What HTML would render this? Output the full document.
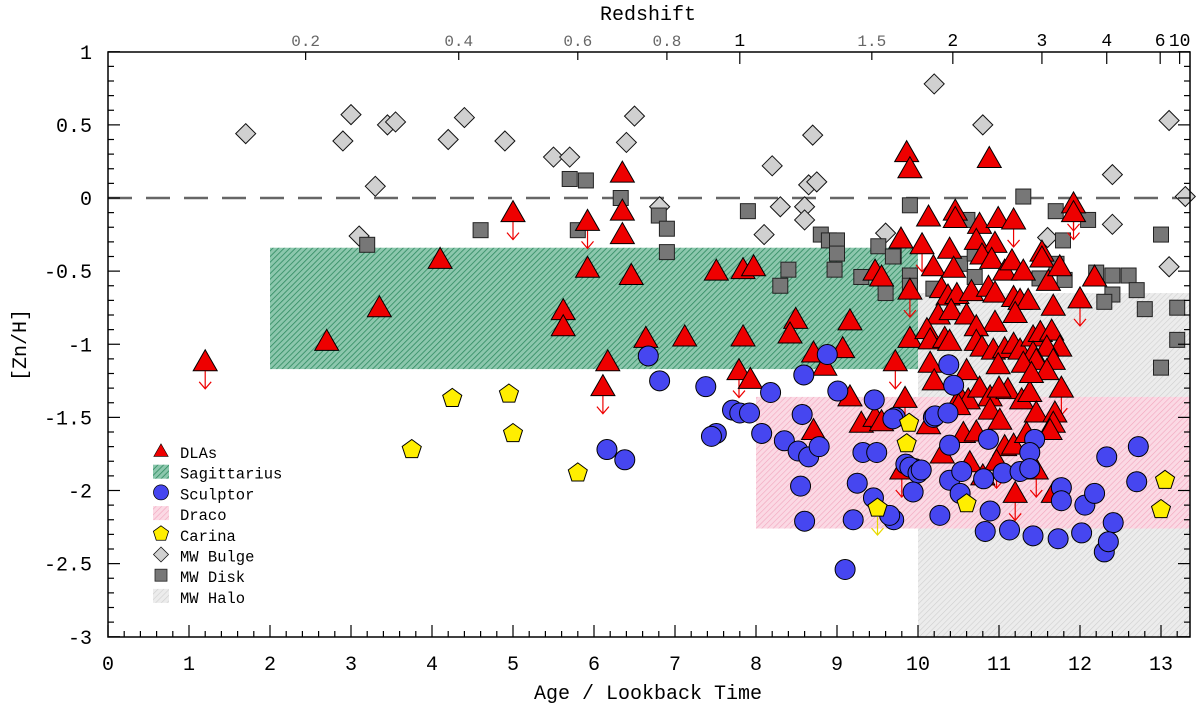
<!DOCTYPE html>
<html><head><meta charset="utf-8"><style>
html,body{margin:0;padding:0;background:#fff;}
svg{display:block;font-family:"Liberation Mono","DejaVu Sans Mono",monospace;}
</style></head><body>
<svg id="chart" width="1200" height="707" viewBox="0 0 1200 707" xmlns="http://www.w3.org/2000/svg">
<defs>
<pattern id="hG" width="4" height="4" patternUnits="userSpaceOnUse" patternTransform="rotate(45)"><rect width="4" height="4" fill="#8cc7ad"/><line x1="0" y1="0" x2="0" y2="4" stroke="#2e8a60" stroke-width="1.6"/></pattern>
<pattern id="hP" width="4" height="4" patternUnits="userSpaceOnUse" patternTransform="rotate(45)"><rect width="4" height="4" fill="#fbd9e4"/><line x1="0" y1="0" x2="0" y2="4" stroke="#f2a5bd" stroke-width="1.2"/></pattern>
<pattern id="hH" width="4" height="4" patternUnits="userSpaceOnUse" patternTransform="rotate(45)"><rect width="4" height="4" fill="#ececec"/><line x1="0" y1="0" x2="0" y2="4" stroke="#cfcfcf" stroke-width="1.2"/></pattern>
</defs>
<g id="regions"></g>
<g id="marks"></g>
<g id="axes"></g>
<g id="legend"></g>
</svg>
<script>
// ---- data ----
const xTicks=[0,1,2,3,4,5,6,7,8,9,10,11,12,13];
const yTicks=[1,0.5,0,-0.5,-1,-1.5,-2,-2.5,-3];
const yTickLabels=["1","0.5","0","-0.5","-1","-1.5","-2","-2.5","-3"];
const zLabels=["0.2","0.4","0.6","0.8","1","1.5","2","3","4","6","10"];
const zAges=[2.44,4.33,5.80,6.90,7.80,9.43,10.43,11.53,12.33,12.99,13.23];
const zMajor=[false,false,false,false,true,false,true,true,true,true,true];
// regions: [x0,x1,yTop,yBottom]
const sagRegion=[2,10,-0.34,-1.17];
const dracoRegion=[8,13.4,-1.36,-2.26];
const haloRegion=[10,13.4,-0.65,-3];
const bulgeX=[1.7,2.9,3.0,3.3,3.1,3.45,3.55,4.2,4.4,4.9,5.5,5.7,6.4,6.5,8.7,8.2,8.65,8.75,6.81,8.3,8.6,8.6,8.1,9.6,10.2,10.8,12.4,13.3,12.4,11.6,13.1,13.1];
const bulgeY=[0.44,0.39,0.57,0.08,-0.26,0.5,0.52,0.4,0.55,0.39,0.28,0.28,0.38,0.56,0.43,0.22,0.09,0.11,-0.06,-0.06,-0.06,-0.15,-0.25,-0.24,0.78,0.5,0.16,0.01,-0.18,-0.27,-0.47,0.53];
const diskX=[3.2,4.6,5.7,5.9,6.33,6.8,6.9,6.9,5.8,7.9,8.8,8.9,9.0,9.0,8.97,8.4,8.3,9.3,9.51,9.7,9.6,9.9,9.9,9.9,11.3,10.61,11.7,12.1,11.79,9.69,10.52,10.7,10.7,11.5,11.71,11.81,12.2,12.4,12.6,12.4,12.3,12.7,13.0,12.8,13.2,13.2,13.0,10.19];
const diskY=[-0.32,-0.22,0.13,0.12,0.0,-0.12,-0.21,-0.37,-0.22,-0.09,-0.25,-0.29,-0.29,-0.38,-0.49,-0.49,-0.6,-0.54,-0.33,-0.4,-0.65,-0.05,-0.53,-0.6,0.01,-0.15,-0.09,-0.15,-0.29,-0.4,-0.45,-0.38,-0.54,-0.55,-0.45,-0.56,-0.51,-0.53,-0.53,-0.66,-0.71,-0.63,-0.25,-0.76,-0.75,-0.97,-1.16,-0.62];
const dlaX=[1.2,2.7,3.35,4.1,5.0,6.35,6.35,6.35,5.92,5.92,6.46,5.62,5.62,6.64,7.12,6.17,6.11,7.51,7.84,7.97,7.84,7.79,7.93,8.49,8.42,8.71,8.85,9.07,9.16,9.16,8.71,9.3,9.47,9.47,9.79,9.86,9.9,10.13,10.05,9.9,9.9,10.15,9.72,9.84,
10.88,11.92,11.92,10.46,10.46,10.76,10.99,11.18,10.39,10.72,10.95,10.79,10.19,10.44,10.91,11.07,11.16,11.3,11.53,11.53,11.61,11.75,12.0,12.18,10.29,10.37,10.48,10.66,10.87,10.95,11.18,11.26,11.36,11.67,10.25,10.41,10.6,10.95,11.2,10.11,10.15,10.33,10.39,10.72,10.72,10.79,10.93,11.07,11.18,11.26,11.42,11.51,11.65,11.75,11.59,11.42,11.46,11.67,10.6,10.99,11.3,11.59,11.77,10.52,10.62,10.76,10.89,11.11,11.28,11.38,11.46,10.89,11.01,11.69,11.67,11.63,10.13,10.56,10.72,11.07,11.18,11.34,11.46,10.64,10.97,9.8,11.2,11.67,9.55,9.55,10.2,10.5,11.0,11.4,10.3,10.8];
const dlaY=[-1.12,-0.98,-0.75,-0.42,-0.1,0.17,-0.09,-0.25,-0.16,-0.48,-0.53,-0.77,-0.88,-0.96,-0.95,-1.12,-1.29,-0.5,-0.49,-0.47,-0.95,-1.18,-1.24,-0.83,-0.93,-1.06,-1.15,-1.03,-0.84,-1.36,-1.59,-1.54,-1.5,-0.5,-0.28,0.31,0.2,-0.13,-0.32,-0.63,-0.96,-1.13,-1.12,-1.37,
0.27,-0.04,-0.1,-0.09,-0.14,-0.18,-0.14,-0.15,-0.35,-0.29,-0.31,-0.39,-0.47,-0.48,-0.42,-0.5,-0.43,-0.5,-0.37,-0.41,-0.57,-0.47,-0.69,-0.54,-0.62,-0.67,-0.66,-0.64,-0.61,-0.65,-0.68,-0.7,-0.7,-0.74,-0.8,-0.77,-0.8,-0.85,-0.79,-0.9,-0.97,-0.96,-0.98,-0.88,-0.98,-1.02,-1.04,-1.03,-1.0,-1.04,-0.95,-0.92,-0.91,-1.02,-1.02,-1.06,-1.11,-1.11,-1.18,-1.14,-1.13,-1.18,-1.3,-1.36,-1.38,-1.3,-1.36,-1.31,-1.38,-1.33,-1.47,-1.45,-1.52,-1.47,-1.54,-1.59,-1.55,-1.61,-1.6,-1.7,-1.69,-1.61,-1.86,-1.81,-1.8,-1.86,-2.02,-2.02,-0.54,-1.53,-1.25,-1.42,-1.3,-1.2,-1.75,-1.9];
const dlaLim=[1,0,0,0,1,0,0,0,1,0,0,0,0,0,0,0,1,0,0,0,0,1,0,0,0,0,0,0,0,0,1,0,0,0,0,0,0,0,1,1,0,0,1,1,
0,1,1,0,0,0,0,1,0,0,0,0,0,0,0,0,0,0,0,0,0,0,1,0,0,0,0,0,0,0,0,0,0,0,0,0,0,0,0,0,0,0,0,0,0,0,0,0,0,0,0,0,0,0,0,0,0,0,0,0,0,0,1,0,0,0,0,0,0,0,0,0,0,0,0,0,0,0,0,0,0,0,1,0,1,1,1,0,0,0,0,0,0,0,0];
const sculX=[6.67,6.81,7.38,7.71,7.8,7.92,8.18,7.51,7.45,6.16,6.38,8.07,8.35,8.57,8.59,8.88,9.01,9.46,8.52,8.65,8.78,9.32,9.49,9.72,9.96,10.19,8.55,8.6,9.1,9.2,9.25,9.45,9.7,9.85,9.9,10.0,
10.38,10.44,10.21,10.37,9.69,10.87,10.39,11.44,11.38,10.04,9.94,10.39,10.54,10.52,10.81,11.05,11.26,11.38,11.77,11.77,12.06,12.18,12.33,12.72,12.7,10.27,10.89,10.83,11.13,11.42,11.73,12.02,12.41,9.65,12.3,12.35];
const sculY=[-1.08,-1.25,-1.29,-1.45,-1.47,-1.47,-1.33,-1.61,-1.63,-1.72,-1.79,-1.61,-1.66,-1.48,-1.21,-1.07,-1.32,-1.38,-1.73,-1.77,-1.7,-1.74,-1.74,-1.5,-1.85,-1.5,-1.97,-2.21,-2.54,-2.2,-1.95,-2.05,-2.2,-1.82,-1.84,-1.88,
-1.14,-1.28,-1.49,-1.47,-1.51,-1.65,-1.69,-1.65,-1.74,-1.86,-2.01,-1.93,-1.87,-2.02,-1.92,-1.88,-1.87,-1.85,-1.98,-2.07,-2.1,-2.02,-1.77,-1.7,-1.94,-2.17,-2.14,-2.28,-2.27,-2.31,-2.33,-2.29,-2.22,-2.17,-2.42,-2.35];
const carX=[3.75,4.25,4.95,5.0,5.8,9.5,9.89,9.86,10.6,13.05,13.0];
const carY=[-1.72,-1.37,-1.34,-1.61,-1.88,-2.12,-1.54,-1.68,-2.09,-1.93,-2.13];
const carLim=[0,0,0,0,0,1,0,0,0,0,0];

// ---- axis functions ----
const X0=108,PX=81,Y0=198,PY=146.25,LEFT=108,RIGHT=1190,TOP=52,BOT=637;
const sx=v=>X0+v*PX, sy=v=>Y0-v*PY;
const NS="http://www.w3.org/2000/svg";
function mk(tag,attrs,parent){const e=document.createElementNS(NS,tag);for(const k in attrs)e.setAttribute(k,attrs[k]);parent.appendChild(e);return e;}
const gR=document.getElementById('regions'),gM=document.getElementById('marks'),gA=document.getElementById('axes'),gL=document.getElementById('legend');

function region(r,fill,name){
  const x0=sx(r[0]),x1=Math.min(sx(r[1]),RIGHT),y0=sy(r[2]),y1=Math.min(sy(r[3]),BOT);
  const e=mk('rect',{x:x0,y:y0,width:x1-x0,height:y1-y0,fill:fill},gR);
  
  
}
region(haloRegion,'url(#hH)','mw-halo-region');
region(dracoRegion,'url(#hP)','draco-region');
region(sagRegion,'url(#hG)','sagittarius-region');
const zl=mk('line',{x1:LEFT,x2:RIGHT,y1:sy(0),y2:sy(0),stroke:'#666','stroke-width':2.5,'stroke-dasharray':'24,14'},gR);



function shape(type,cx,cy,parent){
  let e;
  if(type==='tri') e=mk('polygon',{points:`${cx},${cy-12} ${cx-12},${cy+9} ${cx+12},${cy+9}`,fill:'#ee0000',stroke:'#000','stroke-width':1},parent);
  else if(type==='circ') e=mk('circle',{cx:cx,cy:cy,r:10,fill:'#4646f0',stroke:'#000','stroke-width':1},parent);
  else if(type==='sq') e=mk('rect',{x:cx-7.5,y:cy-7.5,width:15,height:15,fill:'#777',stroke:'#222','stroke-width':1},parent);
  else if(type==='dia') e=mk('polygon',{points:`${cx},${cy-10} ${cx+10},${cy} ${cx},${cy+10} ${cx-10},${cy}`,fill:'#d0d0d0',stroke:'#111','stroke-width':1},parent);
  else { let p=[];for(let i=0;i<5;i++){const a=-Math.PI/2+i*2*Math.PI/5;p.push((cx+10*Math.cos(a)).toFixed(1)+','+(cy+10*Math.sin(a)).toFixed(1));}
    e=mk('polygon',{points:p.join(' '),fill:'#ffee00',stroke:'#000','stroke-width':1},parent);}
  return e;
}
function arrow(cx,cy,color){
  const g=mk('g',{stroke:color,'stroke-width':1.2,fill:'none'},gM);
  
  
  mk('line',{x1:cx,y1:cy+9,x2:cx,y2:cy+27},g);
  mk('polyline',{points:`${cx-6},${cy+20} ${cx},${cy+27} ${cx+6},${cy+20}`},g);
}
function series(xs,ys,type,name,lims,limColor){
  for(let i=0;i<xs.length;i++){
    const cx=sx(xs[i]),cy=sy(ys[i]);
    if(lims&&lims[i]) arrow(cx,cy,limColor);
    const e=shape(type,cx,cy,gM);
    
    
  }
}
series(bulgeX,bulgeY,'dia','mw-bulge-point');
series(diskX,diskY,'sq','mw-disk-point');
series(dlaX,dlaY,'tri','dla-point',dlaLim,'#ee0000');
series(sculX,sculY,'circ','sculptor-point');
series(carX,carY,'pent','carina-point',carLim,'#e8d800');

// ---- axes ----
const fr=mk('rect',{x:LEFT,y:TOP,width:RIGHT-LEFT,height:BOT-TOP,fill:'none',stroke:'#000','stroke-width':1.5},gA);


for(let v=0;v<=13.3;v+=0.2){const x=sx(v);const maj=Math.abs(v-Math.round(v))<1e-6;
  mk('line',{x1:x,x2:x,y1:BOT,y2:BOT-(maj?12:6),stroke:'#000','stroke-width':1.2},gA);}
for(let i=0;i<xTicks.length;i++){const t=mk('text',{x:sx(xTicks[i]),y:670,'text-anchor':'middle','font-size':20,fill:'#000'},gA);t.textContent=xTicks[i];
  
  }
for(let k=-30;k<=10;k++){const v=k/10;const y=sy(v);const maj=(k%5===0);
  mk('line',{x1:LEFT,x2:LEFT+(maj?12:6),y1:y,y2:y,stroke:'#000','stroke-width':1.2},gA);
  mk('line',{x1:RIGHT,x2:RIGHT-(maj?12:6),y1:y,y2:y,stroke:'#000','stroke-width':1.2},gA);}
for(let i=0;i<yTicks.length;i++){const t=mk('text',{x:92,y:sy(yTicks[i])+7,'text-anchor':'end','font-size':20,fill:'#000'},gA);t.textContent=yTickLabels[i];
  
  }
for(let i=0;i<zAges.length;i++){const x=sx(zAges[i]);
  mk('line',{x1:x,x2:x,y1:TOP,y2:TOP+(zMajor[i]?12:8),stroke:'#000','stroke-width':1.2},gA);
  const t=mk('text',{x:x,y:46,'text-anchor':'middle','font-size':zMajor[i]?18:16,fill:zMajor[i]?'#000':'#666'},gA);t.textContent=zLabels[i];
  
  }
let t=mk('text',{x:648,y:20,'text-anchor':'middle','font-size':20},gA);t.textContent='Redshift';


t=mk('text',{x:648,y:699,'text-anchor':'middle','font-size':20},gA);t.textContent='Age / Lookback Time';


t=mk('text',{x:0,y:0,'text-anchor':'middle','font-size':20,transform:'translate(26,345) rotate(-90)'},gA);t.textContent='[Zn/H]';



// ---- legend ----
const legNames=['DLAs','Sagittarius','Sculptor','Draco','Carina','MW Bulge','MW Disk','MW Halo'];
const legTypes=['tri','hG','circ','hP','pent','dia','sq','hH'];
const legScale={tri:0.6,circ:0.75,pent:0.8,dia:0.75,sq:0.8};
for(let i=0;i<legNames.length;i++){
  const y=452+i*20.7;
  const g=mk('g',{},gL);
  
  
  const ty=legTypes[i];
  if(ty[0]==='h') mk('rect',{x:153,y:y-8,width:16,height:14,fill:`url(#${ty})`},g);
  else { const s=shape(ty,0,0,g); s.setAttribute('transform',`translate(161,${y-1}) scale(${legScale[ty]})`); }
  const tx=mk('text',{x:180,y:y+6,'font-size':15.5,fill:'#000','xml:space':'preserve'},g);tx.textContent=legNames[i];
}
</script>
</body></html>
